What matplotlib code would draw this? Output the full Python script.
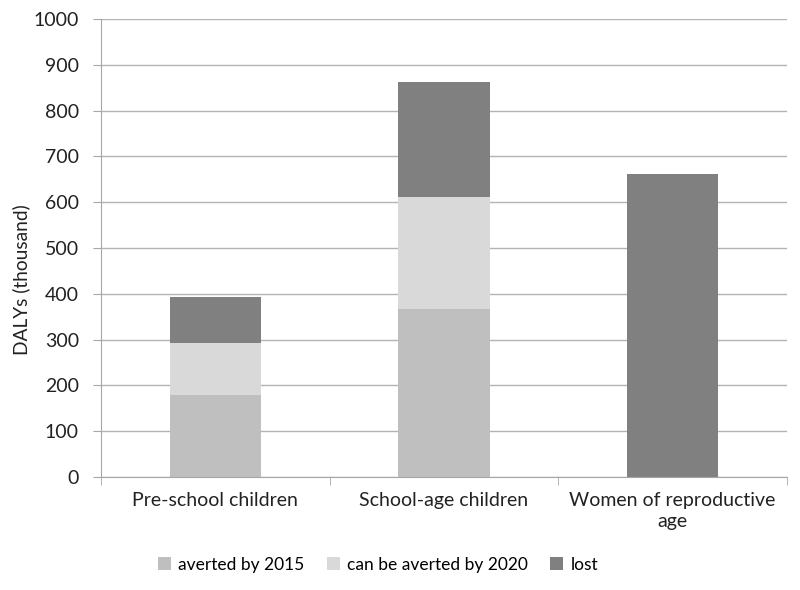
import matplotlib
matplotlib.use('Agg')
import matplotlib.pyplot as plt
import numpy as np

categories = ['Pre-school children', 'School-age children', 'Women of reproductive\nage']
averted_2015 = [178, 367, 0]
averted_2020 = [115, 245, 0]
lost = [100, 250, 661]
series_names = ['averted by 2015', 'can be averted by 2020', 'lost']
colors = ['#bfbfbf', '#d9d9d9', '#808080']

plt.rcParams['font.family'] = ['Lato', 'DejaVu Sans']

fig = plt.figure(figsize=(8, 5.9), dpi=100)
ax = fig.add_axes([101 / 800, 1 - 477 / 590, 686 / 800, 458 / 590])

x = np.arange(len(categories))
bottom = np.zeros(len(categories))
for vals, name, col in zip([averted_2015, averted_2020, lost], series_names, colors):
    ax.bar(x, vals, bottom=bottom, width=0.4, color=col, label=name, zorder=2)
    bottom += np.array(vals)

ax.set_xlim(-0.5, len(categories) - 0.5)
ax.set_ylim(0, 1000)
ax.set_yticks(range(0, 1001, 100))
ax.yaxis.grid(True, color='#b3b3b3', linewidth=1, zorder=0)
ax.set_axisbelow(True)

for s in ['top', 'right']:
    ax.spines[s].set_visible(False)
for s in ['left', 'bottom']:
    ax.spines[s].set_color('#a6a6a6')

ax.set_xticks(x)
ax.set_xticklabels(categories, fontsize=14, color='#222222', linespacing=1.25)
ax.tick_params(axis='x', length=0, pad=11)
ax.set_xticks(np.arange(-0.5, len(categories)), minor=True)
ax.tick_params(axis='x', which='minor', length=6, color='#a6a6a6', direction='out')
ax.tick_params(axis='y', length=6, color='#a6a6a6', labelsize=14, labelcolor='#222222', pad=10)

ax.set_ylabel('DALYs (thousand)', fontsize=13.8, color='#222222')
ax.yaxis.set_label_coords(-0.1035, 0.432)

ax.legend(loc='upper center', bbox_to_anchor=(0.404, -0.14), ncol=3, frameon=False,
          fontsize=12.5, handlelength=0.75, handleheight=0.75, columnspacing=1.3,
          handletextpad=0.4)

plt.savefig('out.png', dpi=100)
plt.close()
